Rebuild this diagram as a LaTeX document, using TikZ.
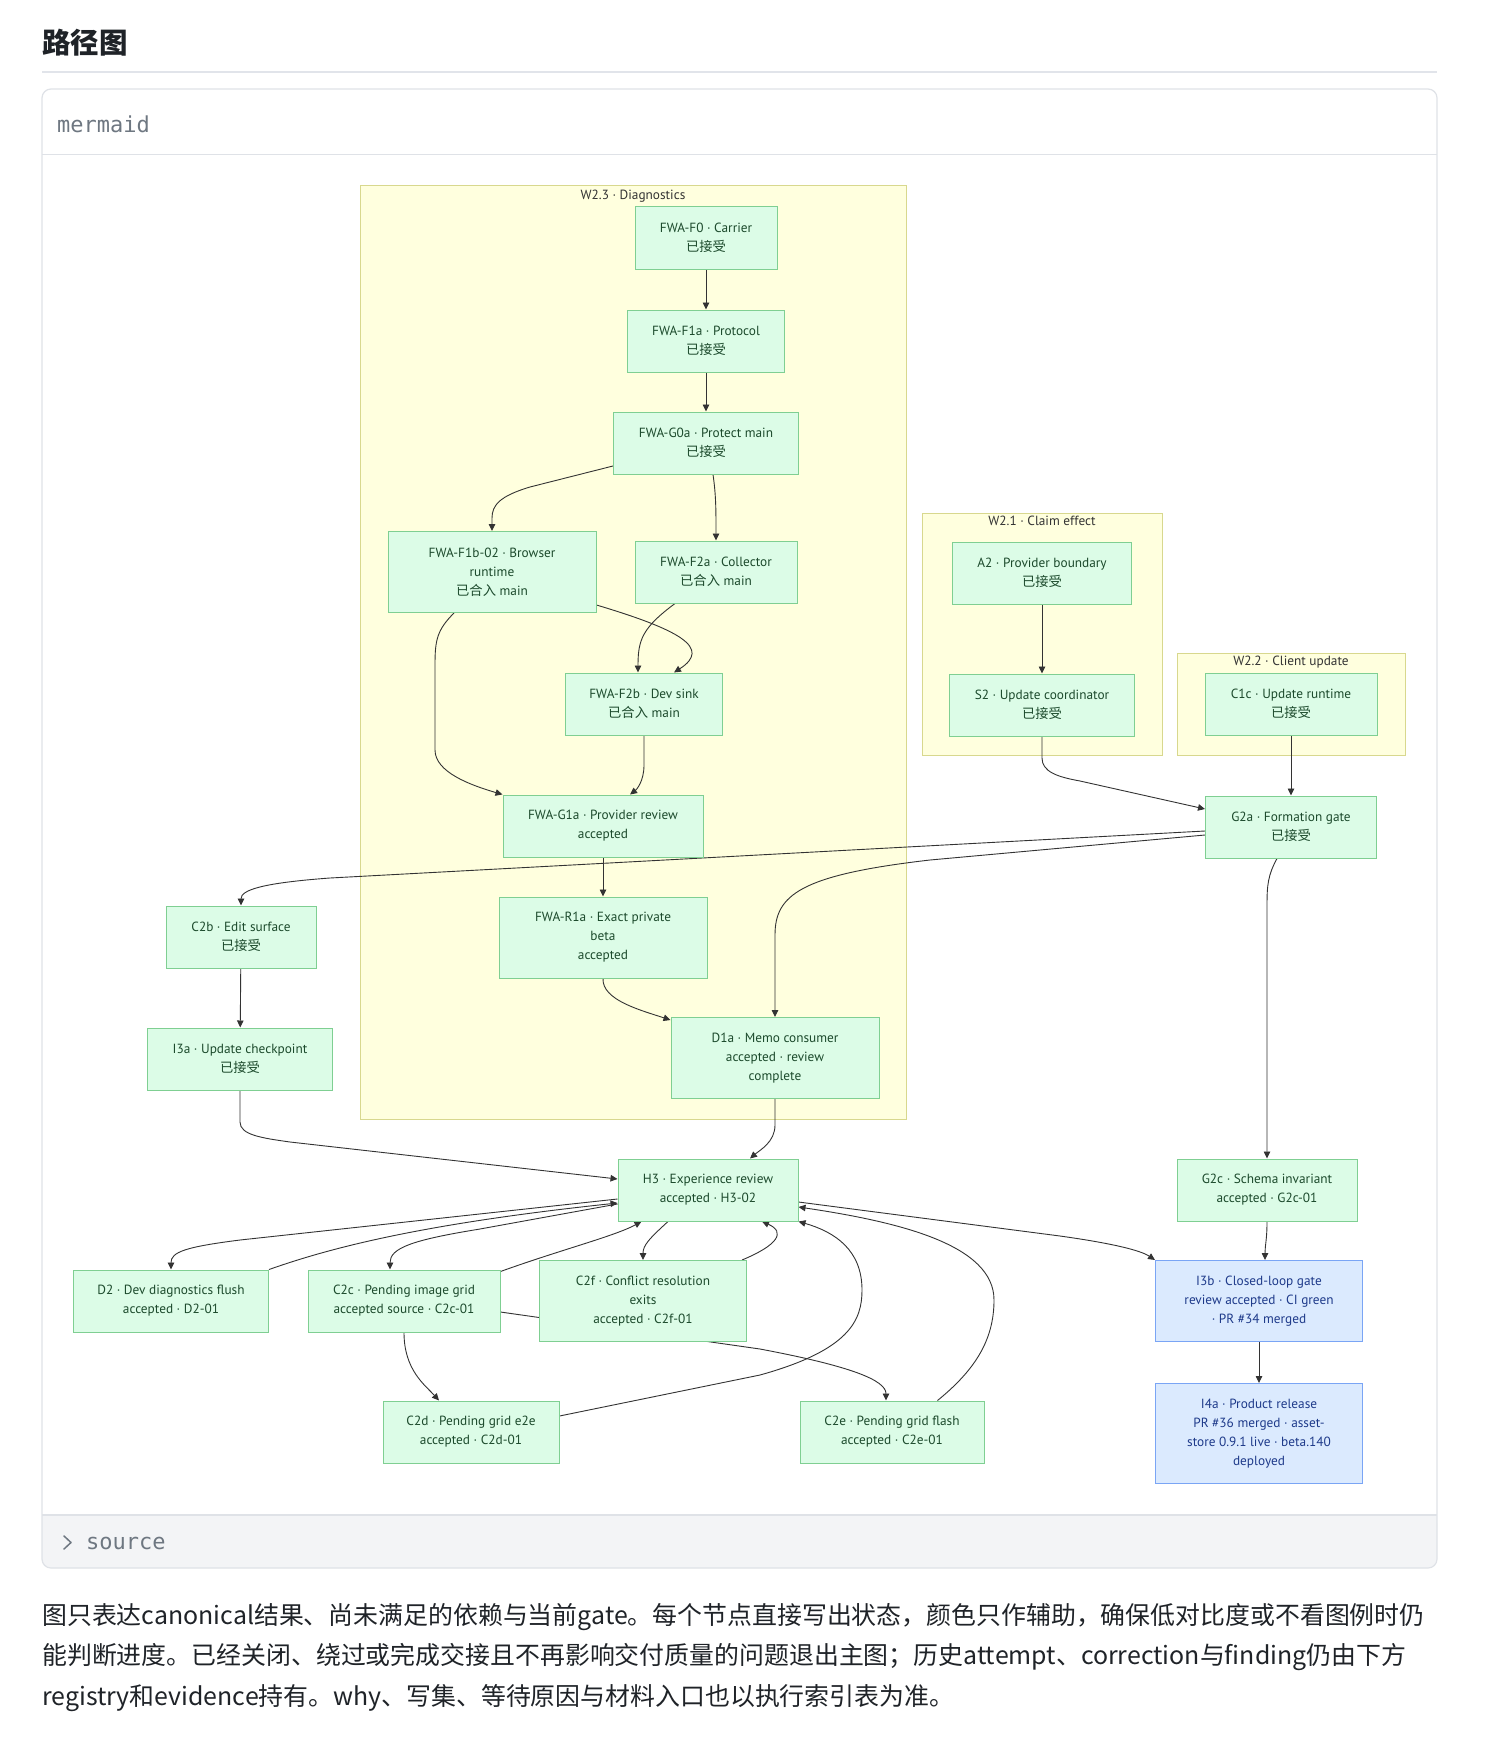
\documentclass[tikz,border=0pt]{standalone}
\usepackage{fontspec}
\setmainfont{PT Sans}
\newfontfamily\cjk{Noto Sans CJK SC}
\newfontfamily\codefont{DejaVu Sans Mono}
\usetikzlibrary{arrows.meta,calc,positioning}

\definecolor{nodefill}{HTML}{DCFCE7}
\definecolor{nodeline}{HTML}{7FCF92}
\definecolor{nodetext}{HTML}{1C4A2C}
\definecolor{relfill}{HTML}{DBEAFE}
\definecolor{relline}{HTML}{7AA5F5}
\definecolor{reltext}{HTML}{1E3A8A}
\definecolor{lanefill}{HTML}{FFFFDE}
\definecolor{laneline}{HTML}{D8D88E}
\definecolor{wire}{HTML}{333333}
\definecolor{rulegray}{HTML}{E1E4EA}
\definecolor{framegray}{HTML}{DFE2E7}
\definecolor{footgray}{HTML}{F3F4F6}
\definecolor{codegray}{HTML}{6E7781}
\definecolor{bodytext}{HTML}{1F2328}

\newcommand\nodetxt{\fontsize{13.3}{19}\selectfont}
\newcommand\paratxt{\cjk\fontsize{24.9}{40}\selectfont}
\newcommand\jieshou{{\cjk 已接受}}
\newcommand\heru{{\cjk 已合入}}

\pgfdeclarelayer{back}
\pgfdeclarelayer{wires}
\pgfsetlayers{back,wires,main}

\tikzset{
  accnode/.style={draw=nodeline, fill=nodefill, text=nodetext, rectangle, line width=1pt,
    align=center, font=\nodetxt, inner sep=0pt, minimum height=62pt},
  relnode/.style={accnode, draw=relline, fill=relfill, text=reltext},
  lane/.style={draw=laneline, fill=lanefill, line width=1pt},
  lanetitle/.style={font=\nodetxt, text=wire, inner sep=0pt},
  flow/.style={draw=wire, line width=0.9pt, -{Triangle[length=7pt,width=6.5pt]}}
}

\begin{document}
\begin{tikzpicture}[x=1pt, y=-1pt]
\useasboundingbox (0,0) rectangle (1499,1744);

\begin{pgfonlayer}{back}
\fill[white] (0,0) rectangle (1499,1744);
\node (pagetitle) [anchor=west, inner sep=0pt, font=\cjk\bfseries\fontsize{28.5}{32}\selectfont, text=bodytext] at (42,43) {路径图};
\draw[rulegray, line width=2pt] (42,72) -- (1437,72);
\fill[footgray, rounded corners=9pt] (42,1515) rectangle (1437,1568);
\fill[footgray] (42,1515) rectangle (1437,1530);
\draw[framegray, line width=1.2pt] (42,154.5) -- (1437,154.5);
\draw[framegray, line width=1.2pt] (42,1515) -- (1437,1515);
\draw[framegray, line width=1.2pt, rounded corners=9pt] (42,89) rectangle (1437,1568);
\node (codetag) [anchor=base west, inner sep=0pt, font=\codefont\fontsize{22}{26}\selectfont, text=codegray] at (57,133) {mermaid};
\draw[codegray, line width=1.5pt, line cap=round, line join=round] (64,1536) -- (71,1542.5) -- (64,1549);
\node (sourcetag) [anchor=base west, inner sep=0pt, font=\codefont\fontsize{22}{26}\selectfont, text=codegray] at (86,1549) {source};

% clusters
\draw[lane] (360,186) rectangle (906,1119);
\node (diagtitle) [lanetitle] at (633,196) {W2.3 · Diagnostics};
\draw[lane] (922,513) rectangle (1162,755);
\node (claimtitle) [lanetitle] at (1042,521) {W2.1 · Claim effect};
\draw[lane] (1177,653) rectangle (1405,755);
\node (clienttitle) [lanetitle] at (1291,662) {W2.2 · Client update};

\node (para1) [anchor=west, inner sep=0pt, font=\paratxt, text=bodytext] at (42,1617) {图只表达canonical结果、尚未满足的依赖与当前gate。每个节点直接写出状态，颜色只作辅助，确保低对比度或不看图例时仍};
\node (para2) [anchor=west, inner sep=0pt, font=\paratxt, text=bodytext] at (42,1657) {能判断进度。已经关闭、绕过或完成交接且不再影响交付质量的问题退出主图；历史attempt、correction与finding仍由下方};
\node (para3) [anchor=west, inner sep=0pt, font=\paratxt, text=bodytext] at (42,1698) {registry和evidence持有。why、写集、等待原因与材料入口也以执行索引表为准。};
\end{pgfonlayer}

\node (f0) [accnode, minimum width=142pt] at (706,238) {FWA-F0 · Carrier\\\jieshou};
\node (f1a) [accnode, minimum width=157pt, below=40pt of f0] {FWA-F1a · Protocol\\\jieshou};
\node (g0a) [accnode, minimum width=185pt, below=39pt of f1a] {FWA-G0a · Protect main\\\jieshou};
\node (f1b) [accnode, minimum width=208pt, minimum height=81pt] at (492,572) {FWA-F1b-02 · Browser\\runtime\\\heru{} main};
\node (f2a) [accnode, minimum width=162pt] at (716,572) {FWA-F2a · Collector\\\heru{} main};
\node (f2b) [accnode, minimum width=157pt] at (644,704) {FWA-F2b · Dev sink\\\heru{} main};
\node (g1a) [accnode, minimum width=200pt] at (603,826) {FWA-G1a · Provider review\\accepted};
\node (r1a) [accnode, minimum width=208pt, minimum height=81pt, below=39pt of g1a] {FWA-R1a · Exact private\\beta\\accepted};
\node (d1a) [accnode, minimum width=208pt, minimum height=81pt] at (775,1058) {D1a · Memo consumer\\accepted · review\\complete};
\node (a2) [accnode, minimum width=179pt] at (1042,573) {A2 · Provider boundary\\\jieshou};
\node (s2) [accnode, minimum width=185pt, below=69pt of a2] {S2 · Update coordinator\\\jieshou};
\node (c1c) [accnode, minimum width=172pt] at (1291,704) {C1c · Update runtime\\\jieshou};
\node (g2a) [accnode, minimum width=171pt, below=60pt of c1c] {G2a · Formation gate\\\jieshou};
\node (c2b) [accnode, minimum width=150pt] at (241,937) {C2b · Edit surface\\\jieshou};
\node (i3a) [accnode, minimum width=185pt] at (240,1059) {I3a · Update checkpoint\\\jieshou};
\node (h3) [accnode, minimum width=180pt] at (708,1190) {H3 · Experience review\\accepted · H3-02};
\node (g2c) [accnode, minimum width=180pt] at (1267,1190) {G2c · Schema invariant\\accepted · G2c-01};
\node (d2) [accnode, minimum width=195pt] at (171,1301) {D2 · Dev diagnostics flush\\accepted · D2-01};
\node (c2c) [accnode, minimum width=192pt] at (404,1301) {C2c · Pending image grid\\accepted source · C2c-01};
\node (c2f) [accnode, minimum width=207pt, minimum height=81pt] at (643,1301) {C2f · Conflict resolution\\exits\\accepted · C2f-01};
\node (i3b) [relnode, minimum width=207pt, minimum height=81pt] at (1259,1301) {I3b · Closed-loop gate\\review accepted · CI green\\· PR \#34 merged};
\node (c2d) [accnode, minimum width=176pt] at (471,1432) {C2d · Pending grid e2e\\accepted · C2d-01};
\node (c2e) [accnode, minimum width=184pt] at (892,1432) {C2e · Pending grid flash\\accepted · C2e-01};
\node (i4a) [relnode, minimum width=207pt, minimum height=100pt, below=41pt of i3b] {I4a · Product release\\PR \#36 merged · asset-\\store 0.9.1 live · beta.140\\deployed};

\begin{pgfonlayer}{wires}
\draw[flow] (f0) -- (f1a);
\draw[flow] (f1a) -- (g0a);
\draw[flow] ($(g0a.west)+(0,23)$) -- (530,487) .. controls (500,496) and (492,505) .. (492,518) -- (f1b.north);
\draw[flow] ($(g0a.south)+(7,0)$) .. controls (716,495) and (716,510) .. (f2a.north);
\draw[flow] ($(f2a.south)+(-41,0)$) .. controls (642,628) and (638,640) .. ($(f2b.north)+(-6,0)$);
\draw[flow] ($(f1b.east)+(0,33)$) .. controls (680,630) and (712,648) .. ($(f2b.north)+(30,0)$);
\draw[flow] ($(f1b.south)+(-38,0)$) .. controls (437,630) and (435,640) .. (435,665) -- (435,750) .. controls (435,772) and (470,785) .. (g1a.north west);
\draw[flow] (f2b.south) -- (644,765) .. controls (644,782) and (636,790) .. ($(g1a.north)+(27,0)$);
\draw[flow] (g1a) -- (r1a);
\draw[flow] (r1a.south) .. controls (602,1000) and (640,1010) .. ($(d1a.north west)+(0,3)$);
\draw[flow] (a2) -- (s2);
\draw[flow] (s2.south) -- (1042,758) .. controls (1042,772) and (1058,777) .. (1080,781) -- ($(g2a.west)+(0,-18)$);
\draw[flow] (c1c) -- (g2a);
\draw[flow] ($(g2a.west)+(0,4)$) -- (330,878) .. controls (262,883) and (241,890) .. (c2b.north);
\draw[flow] ($(g2a.west)+(0,8)$) -- (930,860) .. controls (800,875) and (775,895) .. (775,935) -- (d1a.north);
\draw[flow] ($(g2a.south)+(-14,0)$) .. controls (1268,875) and (1267,885) .. (1267,905) -- (g2c.north);
\draw[flow] (c2b) -- (i3a);
\draw[flow] (i3a.south) -- (240,1122) .. controls (240,1135) and (262,1138) .. (290,1142) -- ($(h3.west)+(0,-11)$);
\draw[flow] (d1a.south) -- (775,1125) .. controls (775,1142) and (760,1150) .. ($(h3.north)+(42,0)$);
\draw[flow] ($(h3.west)+(0,9)$) -- (240,1240) .. controls (185,1247) and (171,1252) .. (d2.north);
\draw[flow] (d2.north east) .. controls (330,1248) and (420,1224) .. ($(h3.west)+(0,13)$);
\draw[flow] ($(h3.west)+(0,14)$) -- (480,1229) .. controls (412,1240) and (390,1248) .. ($(c2c.north)+(-14,0)$);
\draw[flow] ($(c2c.north east)+(0,2)$) .. controls (560,1250) and (615,1236) .. ($(h3.south west)+(24,0)$);
\draw[flow] ($(h3.south)+(-40,0)$) .. controls (650,1238) and (643,1245) .. (c2f.north);
\draw[flow] ($(c2f.north east)+(-5,0)$) .. controls (778,1245) and (786,1232) .. ($(h3.south)+(54,0)$);
\draw[flow] ($(c2c.east)+(0,11)$) -- (760,1349) .. controls (850,1366) and (886,1380) .. ($(c2e.north)+(-6,0)$);
\draw[flow] (c2c.south) .. controls (404,1370) and (425,1385) .. ($(c2d.north)+(-32,0)$);
\draw[flow] ($(c2d.east)+(0,-16)$) -- (760,1375) .. controls (850,1350) and (862,1320) .. (862,1290) .. controls (862,1250) and (835,1232) .. (h3.south east);
\draw[flow] ($(c2e.north east)+(-47,0)$) .. controls (975,1370) and (994,1340) .. (994,1300) .. controls (994,1245) and (900,1222) .. ($(h3.east)+(0,17)$);
\draw[flow] ($(h3.east)+(0,12)$) -- (1060,1236) .. controls (1110,1243) and (1140,1250) .. (i3b.north west);
\draw[flow] (g2c.south) .. controls (1267,1240) and (1265,1245) .. ($(i3b.north)+(6,0)$);
\draw[flow] (i3b) -- (i4a);
\end{pgfonlayer}
\end{tikzpicture}
\end{document}
